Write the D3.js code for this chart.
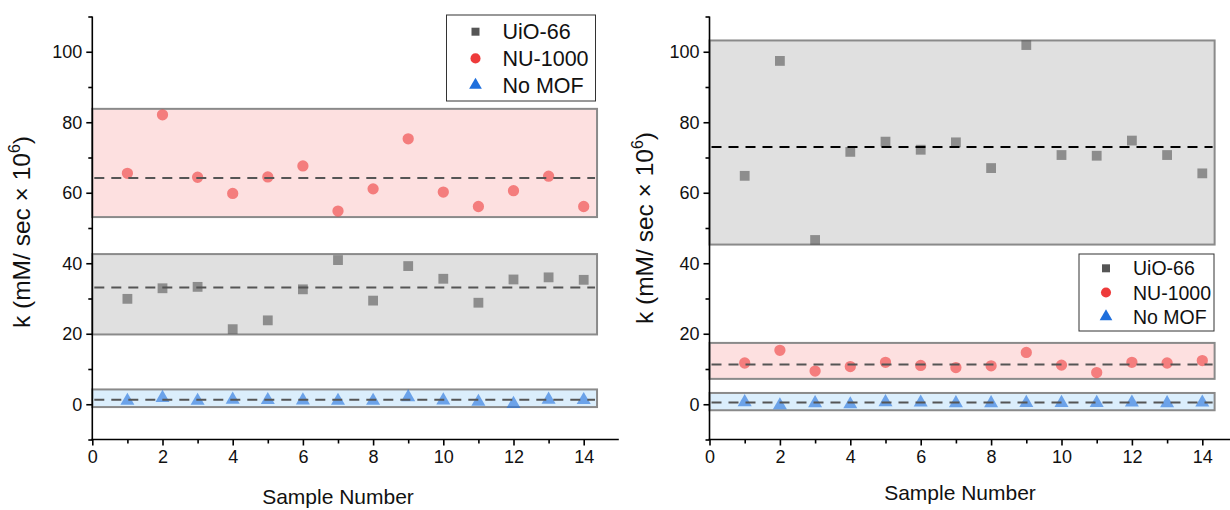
<!DOCTYPE html>
<html>
<head>
<meta charset="utf-8">
<script src="https://cdn.jsdelivr.net/npm/d3@7"></script>
<style>
  html, body { margin: 0; padding: 0; background: #fff; }
  svg { display: block; font-family: "Liberation Sans", Arial, sans-serif; }
</style>
</head>
<body>
<svg id="chart" width="1230" height="510"></svg>
<script>
// Sample numbers (x categories)
const samples = [1, 2, 3, 4, 5, 6, 7, 8, 9, 10, 11, 12, 13, 14];

// Left panel rate constants, k (mM/sec × 10^6)
const leftUio    = [29.9, 32.9, 33.3, 21.3, 23.8, 32.6, 40.9, 29.4, 39.2, 35.6, 28.8, 35.4, 36.0, 35.3];
const leftNu     = [65.5, 82.1, 64.4, 59.8, 64.5, 67.6, 54.8, 61.1, 75.3, 60.2, 56.1, 60.6, 64.7, 56.1];
const leftNoMof  = [1.0, 1.8, 1.0, 1.3, 1.2, 1.1, 1.0, 1.0, 2.0, 1.1, 0.7, 0.1, 1.3, 1.2];

// Right panel rate constants, k (mM/sec × 10^6)
const rightUio   = [64.8, 97.4, 46.6, 71.6, 74.5, 72.2, 74.3, 67.0, 101.9, 70.7, 70.5, 74.8, 70.7, 65.5];
const rightNu    = [11.7, 15.3, 9.4, 10.7, 11.9, 11.0, 10.4, 10.9, 14.7, 11.1, 9.0, 11.9, 11.7, 12.4];
const rightNoMof = [0.6, -0.3, 0.3, 0.0, 0.6, 0.5, 0.3, 0.3, 0.4, 0.4, 0.4, 0.5, 0.3, 0.5];

// Shaded ranges [low, high] and mean lines per series
const leftRanges  = { uio: [19.8, 42.6], nu: [53.1, 83.8], nomof: [-0.8, 4.2] };
const leftMeans   = { uio: 33.1, nu: 64.2, nomof: 1.3 };
const rightRanges = { uio: [45.3, 103.2], nu: [7.2, 17.4], nomof: [-1.7, 3.2] };
const rightMeans  = { uio: 73.0, nu: 11.3, nomof: 0.5 };

// Axis ticks
const xTicks = [0, 2, 4, 6, 8, 10, 12, 14];
const yTicks = [0, 20, 40, 60, 80, 100];
const seriesNames = ["UiO-66", "NU-1000", "No MOF"];

const svg = d3.select("#chart");

const solid = { uio: "#555555", nu: "#ee3b3b", nomof: "#1f6fdc" };
const bandFill = { uio: "#e0e0e0", nu: "#fde0e0", nomof: "#dbeefc" };

function drawPanel(cfg) {
  const x = d3.scaleLinear().domain([0, 15]).range([cfg.x0, cfg.x0 + 15 * cfg.xUnit]);
  const y = d3.scaleLinear().domain([-10, 110]).range([439.5, 16.5]);
  const g = svg.append("g");

  // Shaded ranges
  const keys = ["uio", "nu", "nomof"];
  keys.forEach(k => {
    const r = cfg.ranges[k];
    g.append("rect")
      .attr("x", x(0))
      .attr("y", y(r[1]))
      .attr("width", x(cfg.bandEnd) - x(0))
      .attr("height", y(r[0]) - y(r[1]))
      .attr("fill", bandFill[k])
      .attr("stroke", "#8a8a8a")
      .attr("stroke-width", 2);
  });

  const sym = {
    uio: d3.symbol().type(d3.symbolSquare).size(96),
    nu: d3.symbol().type(d3.symbolCircle).size(100),
    nomof: d3.symbol().type(d3.symbolTriangle).size(85)
  };

  // Data markers
  keys.forEach(k => {
    g.append("g").selectAll("path")
      .data(samples.map((s, i) => [s, cfg.data[k][i]]))
      .join("path")
      .attr("d", sym[k])
      .attr("transform", d => `translate(${x(d[0])},${y(d[1])})`)
      .attr("fill", solid[k])
      .attr("fill-opacity", 0.6);
  });

  // Mean lines
  keys.forEach(k => {
    g.append("line")
      .attr("x1", x(0) + 2).attr("x2", x(cfg.bandEnd) - 2)
      .attr("y1", y(cfg.means[k])).attr("y2", y(cfg.means[k]))
      .attr("stroke", cfg.meanColor[k])
      .attr("stroke-width", 2)
      .attr("stroke-dasharray", "10,7");
  });

  // Axes
  const xAxis = d3.axisBottom(x).tickValues(xTicks).tickSize(6).tickPadding(5).tickFormat(d3.format("d"));
  const xMinor = d3.axisBottom(x).tickValues(d3.range(1, 15, 2)).tickSize(4).tickFormat("");
  const yAxis = d3.axisLeft(y).tickValues(yTicks).tickSize(6).tickPadding(4).tickFormat(d3.format("d"));
  const yMinor = d3.axisLeft(y).tickValues([-10, 10, 30, 50, 70, 90, 110]).tickSize(4).tickFormat("");

  const gx = g.append("g").attr("transform", `translate(0,${y(-10)})`).call(xAxis);
  g.append("g").attr("transform", `translate(0,${y(-10)})`).call(xMinor).select(".domain").remove();
  const gy = g.append("g").attr("transform", `translate(${x(0)},0)`).call(yAxis);
  g.append("g").attr("transform", `translate(${x(0)},0)`).call(yMinor).select(".domain").remove();

  [gx, gy].forEach(a => {
    a.selectAll(".domain").attr("stroke", "#000").attr("stroke-width", 1.6);
    a.selectAll("text").attr("font-size", 18).attr("fill", "#111").attr("font-family", "Liberation Sans, Arial, sans-serif");
  });
  g.selectAll(".tick line").attr("stroke", "#000").attr("stroke-width", 1.6);
  gx.select(".domain").attr("d", `M${x(0) - 1},0H${x(15)}`);
  gy.select(".domain").attr("d", `M0,${y(110)}V${y(-10)}`);

  // Axis titles
  g.append("text")
    .attr("x", cfg.xTitleX).attr("y", cfg.xTitleY)
    .attr("text-anchor", "middle")
    .attr("font-size", 21).attr("fill", "#111")
    .text("Sample Number");

  const yl = g.append("text")
    .attr("transform", `translate(${cfg.yTitleX},${cfg.yTitleY}) rotate(-90)`)
    .attr("text-anchor", "middle")
    .attr("font-size", 24.5).attr("fill", "#111");
  yl.append("tspan").text("k (mM/ sec \u00d7 10");
  yl.append("tspan").attr("font-size", 16).attr("dy", -10).text("6");
  yl.append("tspan").attr("dy", 10).text(")");

  // Legend
  const L = cfg.legend;
  const lg = g.append("g");
  lg.append("rect")
    .attr("x", L.x).attr("y", L.y).attr("width", L.w).attr("height", L.h)
    .attr("fill", "#fff").attr("stroke", "#333").attr("stroke-width", 1);
  keys.forEach((k, i) => {
    const cy = L.y + L.first + i * L.step;
    lg.append("path")
      .attr("d", d3.symbol().type([d3.symbolSquare, d3.symbolCircle, d3.symbolTriangle][i]).size([64, 80, 70][i]))
      .attr("transform", `translate(${L.x + L.symX},${cy})`)
      .attr("fill", solid[k]);
    lg.append("text")
      .attr("x", L.x + L.textX).attr("y", cy)
      .attr("dy", "0.36em")
      .attr("font-size", L.font).attr("fill", "#111")
      .text(seriesNames[i]);
  });
}

drawPanel({
  x0: 92.3, xUnit: 35.1, bandEnd: 14.38,
  data: { uio: leftUio, nu: leftNu, nomof: leftNoMof },
  ranges: leftRanges, means: leftMeans,
  meanColor: { uio: "#555", nu: "#555", nomof: "#555" },
  xTitleX: 338, xTitleY: 504, yTitleX: 30, yTitleY: 232,
  legend: { x: 446.5, y: 15, w: 149, h: 86, first: 16.7, step: 26.7, symX: 29, textX: 56, font: 21.5 }
});

drawPanel({
  x0: 709.5, xUnit: 35.2, bandEnd: 14.35,
  data: { uio: rightUio, nu: rightNu, nomof: rightNoMof },
  ranges: rightRanges, means: rightMeans,
  meanColor: { uio: "#000", nu: "#555", nomof: "#555" },
  xTitleX: 960, xTitleY: 500, yTitleX: 653, yTitleY: 228,
  legend: { x: 1079, y: 254, w: 135, h: 77, first: 14.3, step: 24.2, symX: 27, textX: 54, font: 19.5 }
});
</script>
</body>
</html>
